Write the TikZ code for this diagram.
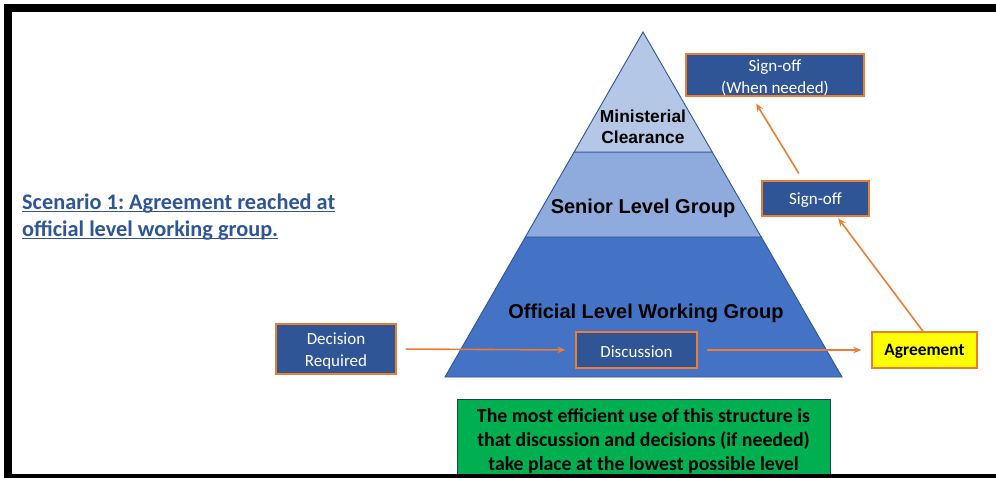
\documentclass[tikz,border=0pt]{standalone}
\usepackage{fontspec}
\setmainfont{Carlito}
\newfontfamily\arialf{Liberation Sans}
\usetikzlibrary{arrows.meta,calc}
\definecolor{dblue}{HTML}{2F5597}
\definecolor{orng}{HTML}{ED7D31}
\definecolor{pyrA}{HTML}{B4C7E7}
\definecolor{pyrB}{HTML}{8FAADC}
\definecolor{pyrC}{HTML}{4472C4}
\definecolor{grn}{HTML}{00B050}
\definecolor{yel}{HTML}{FFFF00}
\frenchspacing
\tikzset{
  bluebox/.style={draw=orng, line width=1.4pt, fill=dblue, text=white, align=center, inner sep=0pt, font=\fontsize{17}{22}\selectfont},
  flow/.style={draw=orng, line width=1.6pt, -{Stealth[length=8pt,width=6.5pt]}},
  tier/.style={draw=dblue, line width=0.9pt},
  pyrtext/.style={font=\arialf\bfseries\fontsize{20}{24}\selectfont, text=black, align=center, inner sep=0pt},
}
\begin{document}
\begin{tikzpicture}[x=1pt,y=-1pt]
\useasboundingbox (0,0) rectangle (996,477);
\fill[white] (0,0) rectangle (996,477);

% pyramid
\coordinate (apex) at (643,32);
\coordinate (bl) at (445,377);
\coordinate (br) at (842,377);
\coordinate (m1l) at ($(apex)!0.3478!(bl)$);
\coordinate (m1r) at ($(apex)!0.3478!(br)$);
\coordinate (m2l) at ($(apex)!0.5942!(bl)$);
\coordinate (m2r) at ($(apex)!0.5942!(br)$);
\path[tier, fill=pyrC] (m2l) -- (bl) -- (br) -- (m2r) -- cycle;
\path[tier, fill=pyrB] (m1l) -- (m2l) -- (m2r) -- (m1r) -- cycle;
\path[tier, fill=pyrA] (apex) -- (m1l) -- (m1r) -- cycle;

\node[pyrtext, font=\arialf\bfseries\fontsize{17.4}{20.5}\selectfont] (mc) at (643,127) {Ministerial\\Clearance};
\node[pyrtext] (slg) at (643,208) {Senior Level Group};
\node[pyrtext] (olwg) at (646,313) {Official Level Working Group};

% title
\node[anchor=west, text=dblue, font=\bfseries\fontsize{22.3}{27}\selectfont, align=left, inner sep=0pt] (title) at (22,224)
  {\underline{\smash{Scenario 1: Agreement reached at}}\\\underline{\smash{official level working group.}}};

% boxes
\node[bluebox, minimum width=120pt, minimum height=50pt] (dec) at (336,349) {};
\node[bluebox, draw=none, fill=none] (dect) at (336,351.5) {Decision\\Required};
\node[bluebox, minimum width=121pt, minimum height=36pt] (disc) at (636.5,350) {};
\node[bluebox, draw=none, fill=none] (disct) at (636.5,351.5) {Discussion};
\node[bluebox, fill=yel, text=black, font=\bfseries\fontsize{17.4}{22}\selectfont, minimum width=105pt, minimum height=36pt] (agr) at (924.5,350) {};
\node[bluebox, draw=none, fill=none, text=black, font=\bfseries\fontsize{17.4}{22}\selectfont] (agrt) at (924.5,351.5) {Agreement};
\node[bluebox, minimum width=107pt, minimum height=35pt] (so) at (815.5,198.5) {};
\node[bluebox, draw=none, fill=none] (sot) at (815.5,200) {Sign-off};
\node[bluebox, minimum width=178pt, minimum height=42pt] (wn) at (775,75) {};
\node[bluebox, draw=none, fill=none] (wnt) at (775,77.5) {Sign-off\\(When needed)};

% green box
\node[draw=dblue!70!black, line width=0.8pt, fill=grn, minimum width=373pt, minimum height=100pt, inner sep=0pt] (gb) at (643.5,449) {};
\node[anchor=north, text=black, align=center, inner sep=0pt, font=\bfseries\fontsize{19.8}{24}\selectfont] (gt) at (643.5,408)
  {The most efficient use of this structure is\\that discussion and decisions (if needed)\\take place at the lowest possible level};

% arrows
\draw[flow, shorten <=9pt, shorten >=10pt] (dec.east) -- (disc.west);
\draw[flow, shorten <=9pt, shorten >=10pt] (disc.east) -- (agr.west);
\draw[flow, shorten >=2pt] ([xshift=-1.5pt]agr.north) -- ([xshift=21.5pt]so.south);
\draw[flow, shorten <=8pt, shorten >=8pt] ([xshift=-12.5pt]so.north) -- ([xshift=-23pt]wn.south);

% frame
\draw[black, line width=8pt] (8,8) rectangle (1010,478);
\end{tikzpicture}
\end{document}
